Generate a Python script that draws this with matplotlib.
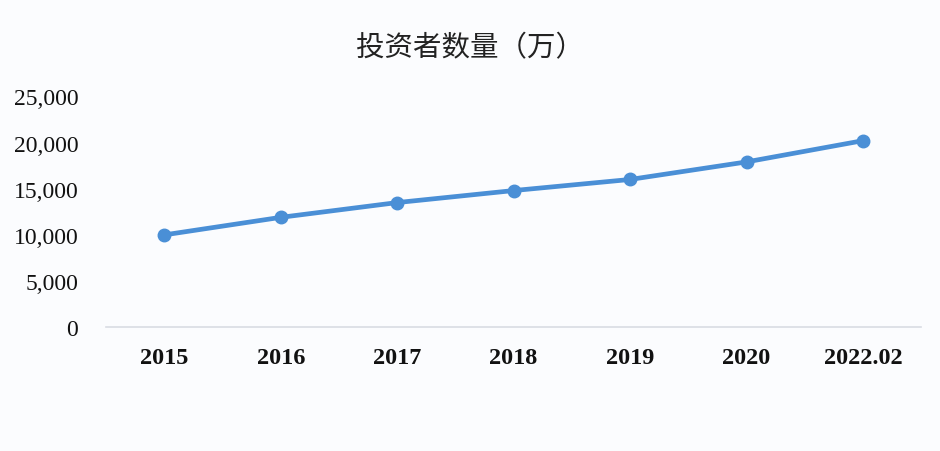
import matplotlib
matplotlib.use("Agg")
import matplotlib.pyplot as plt

# Number of investors (10k persons)
periods = ["2015", "2016", "2017", "2018", "2019", "2020", "2022.02"]
investors = [10000, 11900, 13500, 14800, 16000, 17900, 20200]
y_ticks = [0, 5000, 10000, 15000, 20000, 25000]
y_tick_labels = ["0", "5,000", "10,000", "15,000", "20,000", "25,000"]
title = "投资者数量（万）"

bg = "#fbfcfe"
line_color = "#4a8fd6"

fig = plt.figure(figsize=(9.4, 4.52), dpi=100, facecolor=bg)
ax = fig.add_axes([0.1128, 0.2737, 0.98 - 0.1128, 0.7847 - 0.2737])
ax.set_facecolor(bg)

x = list(range(len(periods)))
ax.plot(x, investors, color=line_color, lw=3.4, marker="o", ms=9,
        markerfacecolor=line_color, markeredgecolor=line_color, zorder=3)

ax.set_xlim(-0.5, len(periods) - 0.5)
ax.set_ylim(0, 25000)
ax.set_xticks(x)
ax.set_xticklabels(periods, family="Liberation Serif", fontweight="bold",
                   fontsize=17.5, color="#111111")
ax.set_yticks(y_ticks)
ax.set_yticklabels(y_tick_labels, family="Liberation Serif", fontsize=17,
                   color="#111111")
ax.tick_params(axis="both", length=0)
ax.tick_params(axis="y", pad=20)
ax.tick_params(axis="x", pad=14)

for side in ["top", "right", "left"]:
    ax.spines[side].set_visible(False)
ax.spines["bottom"].set_color("#d9dce3")
ax.spines["bottom"].set_linewidth(1.2)

fig.text(0.5, 1 - 48 / 452, title, ha="center", va="center", fontsize=20.5,
         color="#222222", family=["Noto Sans CJK SC", "DejaVu Sans"])

fig.savefig("out.png", dpi=100, facecolor=bg)
